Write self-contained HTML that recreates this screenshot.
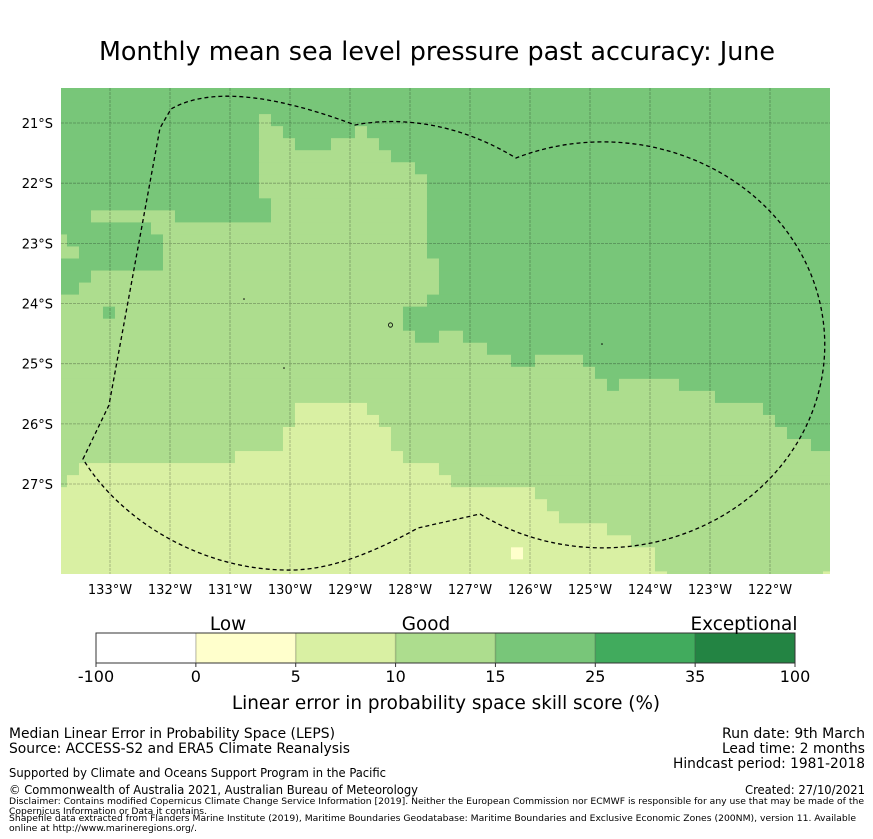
<!DOCTYPE html>
<html><head><meta charset="utf-8">
<style>
html,body{margin:0;padding:0;background:#fff;}
svg{display:block;font-family:"DejaVu Sans","Liberation Sans",sans-serif;}
</style></head>
<body>
<svg id="fig" width="873" height="839" viewBox="0 0 873 839" xmlns="http://www.w3.org/2000/svg">
<text x="437" y="60" text-anchor="middle" font-size="25.4">Monthly mean sea level pressure past accuracy: June</text>
<defs><clipPath id="mapclip"><rect x="61" y="88" width="769" height="486"/></clipPath></defs>
<g id="map" clip-path="url(#mapclip)">
<g id="cells"></g>
<g id="grid"></g>
<path fill="none" stroke="#000" stroke-width="1.3" stroke-dasharray="4,3"
 d="M83,459 L109,405 L160,128 L171,109 Q227,77 355,125 C375,121 440,112 516,158 A222,203 0 1 1 480,514 L418,528 C360,560 320,571 285,570 C200,569 120,520 83,459 Z"/>
<circle cx="244" cy="299" r="0.8" fill="#000"/>
<ellipse cx="390.5" cy="325" rx="2" ry="2.2" fill="none" stroke="#000" stroke-width="0.8"/>
<circle cx="602" cy="344" r="0.8" fill="#000"/>
<circle cx="284" cy="368" r="0.8" fill="#000"/>
</g>
<g id="xlabels"></g>
<g id="ylabels"></g>
<g id="cbar"></g>
<text x="228" y="630" text-anchor="middle" font-size="18.4">Low</text>
<text x="426" y="630" text-anchor="middle" font-size="18.4">Good</text>
<text x="744" y="630" text-anchor="middle" font-size="18.4">Exceptional</text>
<text x="446" y="709" text-anchor="middle" font-size="18.4">Linear error in probability space skill score (%)</text>
<g font-family="'DejaVu Sans Condensed','DejaVu Sans',sans-serif">
<text x="9" y="738" font-size="14" textLength="326" lengthAdjust="spacingAndGlyphs">Median Linear Error in Probability Space (LEPS)</text>
<text x="9" y="753" font-size="14" textLength="341" lengthAdjust="spacingAndGlyphs">Source: ACCESS-S2 and ERA5 Climate Reanalysis</text>
<text x="9" y="777" font-size="12.5" textLength="377" lengthAdjust="spacingAndGlyphs">Supported by Climate and Oceans Support Program in the Pacific</text>
<text x="9" y="794" font-size="12.5" textLength="409" lengthAdjust="spacingAndGlyphs">© Commonwealth of Australia 2021, Australian Bureau of Meteorology</text>
<text x="9" y="804" font-size="9" textLength="855" lengthAdjust="spacingAndGlyphs">Disclaimer: Contains modified Copernicus Climate Change Service Information [2019]. Neither the European Commission nor ECMWF is responsible for any use that may be made of the</text>
<text x="9" y="814" font-size="9" textLength="198" lengthAdjust="spacingAndGlyphs">Copernicus Information or Data it contains.</text>
<text x="9" y="821" font-size="9" textLength="847" lengthAdjust="spacingAndGlyphs">Shapefile data extracted from Flanders Marine Institute (2019), Maritime Boundaries Geodatabase: Maritime Boundaries and Exclusive Economic Zones (200NM), version 11. Available</text>
<text x="9" y="831" font-size="9" textLength="188" lengthAdjust="spacingAndGlyphs">online at http://www.marineregions.org/.</text>
<text x="865" y="738" font-size="14" text-anchor="end" textLength="143" lengthAdjust="spacingAndGlyphs">Run date: 9th March</text>
<text x="865" y="753" font-size="14" text-anchor="end" textLength="143" lengthAdjust="spacingAndGlyphs">Lead time: 2 months</text>
<text x="865" y="768" font-size="14" text-anchor="end" textLength="192" lengthAdjust="spacingAndGlyphs">Hindcast period: 1981-2018</text>
<text x="865" y="794" font-size="12.5" text-anchor="end" textLength="120" lengthAdjust="spacingAndGlyphs">Created: 27/10/2021</text>
</g>
</svg>
<script>
// Heatmap category rows (run-length: D=15-25, L=10-15, P=5-10, Y=0-5), rows from north, first row partially visible
const rowCodes = [
"D65","D65","D65",
"D17L1D47","D17L2D6L1D39","D17L3D3L4D38","D17L11D37","D17L13D35","D17L14D34","D17L14D34",
"D18L13D34","D3L7D8L13D34","D8L23D34","L1D8L22D34","L2D7L22D34","D9L23D33","D3L29D33","D2L30D33",
"L31D34","L4D1L24D36","L29D36","L30D2L2D31","L36D29","L38D2L4D21","L45D20","L46D1L5D13","L55D10",
"L20P6L33D6","L20P7L33D5","L19P9L33D4","L19P9L35D2","L15P14L36","L2P30L33","L1P32L32",
"P40L25","P41L24","P42L23","P46L19","P48L17","P38Y1P11L15","P50L15","P51L13P1"
];
const categoryColors = {Y:"#ffffcc",P:"#d9f0a3",L:"#addd8e",D:"#78c679"};
const lonTicks = [-133,-132,-131,-130,-129,-128,-127,-126,-125,-124,-123,-122];
const latTicks = [21,22,23,24,25,26,27];
const cbarBounds = ["-100","0","5","10","15","25","35","100"];
const cbarColors = ["#ffffff","#ffffcc","#d9f0a3","#addd8e","#78c679","#41ab5d","#238443"];

const NS="http://www.w3.org/2000/svg";
function lonX(lon){return 110+60*(lon+133);}
function latY(lat){return 123+60.17*(lat-21);}
const cellLon0=-133.917, cellLat0=20.252;
function colX(c){return lonX(cellLon0+c*0.2);}
function rowY(r){return latY(cellLat0+r*0.2);}
function mk(tag,attrs,parent){const e=document.createElementNS(NS,tag);for(const k in attrs)e.setAttribute(k,attrs[k]);parent.appendChild(e);return e;}

const cells=document.getElementById('cells');
rowCodes.forEach((code,r)=>{
  const re=/([A-Z])(\d+)/g; let m; let c=0;
  while((m=re.exec(code))){
    const n=+m[2];
    const rect=mk('rect',{x:colX(c),y:rowY(r),width:colX(c+n)-colX(c)+0.5,height:rowY(r+1)-rowY(r)+0.5,fill:categoryColors[m[1]]},cells);
    
    
    c+=n;
  }
});
const grid=document.getElementById('grid');
const xl=document.getElementById('xlabels');
lonTicks.forEach(l=>{
  const ln=mk('line',{x1:lonX(l),x2:lonX(l),y1:88,y2:574,stroke:"#000","stroke-opacity":0.3,"stroke-width":0.8,"stroke-dasharray":"3,1"},grid);
  
  
  const t=mk('text',{x:lonX(l),y:594,"text-anchor":"middle","font-size":13},xl);
  t.textContent=Math.abs(l)+"°W";
  
  
});
const yl=document.getElementById('ylabels');
latTicks.forEach(l=>{
  const ln=mk('line',{x1:61,x2:830,y1:latY(l),y2:latY(l),stroke:"#000","stroke-opacity":0.3,"stroke-width":0.8,"stroke-dasharray":"3,1"},grid);
  
  
  const t=mk('text',{x:53,y:latY(l)+5,"text-anchor":"end","font-size":13},yl);
  t.textContent=l+"°S";
  
  
});
const cb=document.getElementById('cbar');
const cbX0=96, cbX1=795, cbY=633, cbH=30;
const segW=(cbX1-cbX0)/cbarColors.length;
cbarColors.forEach((col,i)=>{
  const r=mk('rect',{x:cbX0+i*segW,y:cbY,width:segW,height:cbH,fill:col},cb);
  
  
  if(i>0){const d=mk('line',{x1:cbX0+i*segW,x2:cbX0+i*segW,y1:cbY,y2:cbY+cbH,stroke:"#000","stroke-opacity":0.2,"stroke-width":1.5},cb);
  
  }
});
const frame=mk('rect',{x:cbX0,y:cbY,width:cbX1-cbX0,height:cbH,fill:"none",stroke:"#333","stroke-width":1},cb);


cbarBounds.forEach((lab,i)=>{
  const x=cbX0+i*segW;
  const tk=mk('line',{x1:x,x2:x,y1:cbY+cbH,y2:cbY+cbH+4,stroke:"#333","stroke-width":1},cb);
  
  
  const t=mk('text',{x:x,y:682,"text-anchor":"middle","font-size":16},cb);
  t.textContent=lab;
  
  
});
</script>
</body></html>
